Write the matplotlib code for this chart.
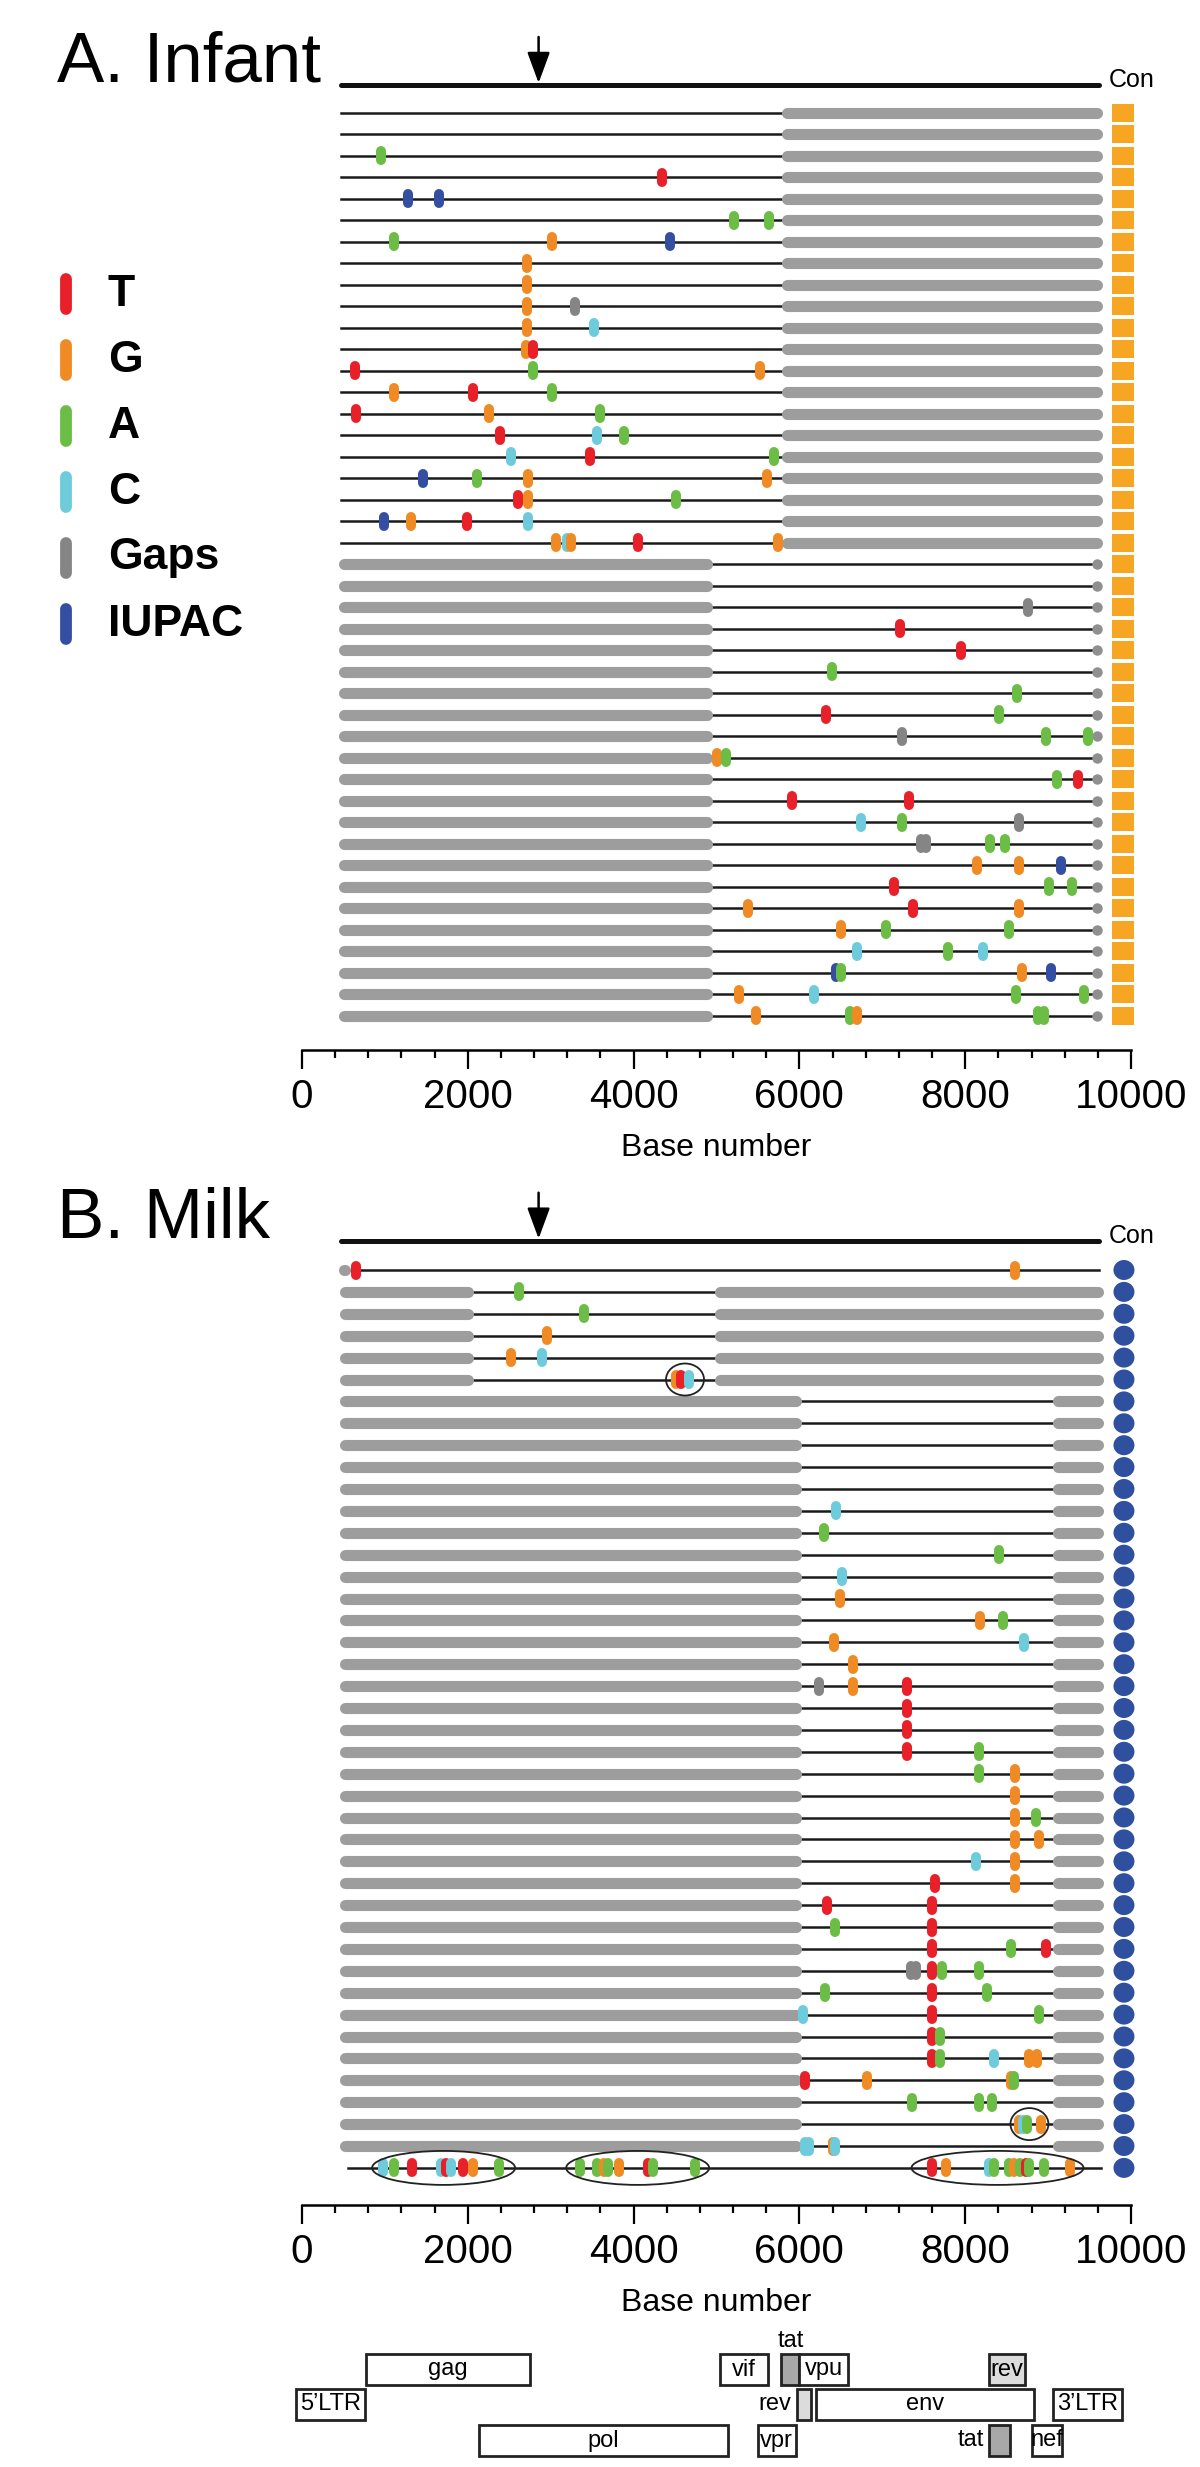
import matplotlib
matplotlib.use("Agg")
import matplotlib.pyplot as plt
import matplotlib.transforms as mtransforms
from matplotlib.patches import Ellipse, Rectangle
from matplotlib.ticker import MultipleLocator

plt.rcParams["font.family"] = ["Liberation Sans", "DejaVu Sans"]

W, H = 1200, 2467
X0_PX, X1_PX = 302, 1131          # pixel columns of base 0 and base 10000
PX_PER_BP = (X1_PX - X0_PX) / 10000.0

COLORS = {"T": "#e8202a", "G": "#f08a24", "A": "#6cbd45",
          "C": "#6dcbdc", "-": "#858585", "N": "#344fa1"}
GAP_GRAY = "#9d9d9d"
LEGEND_CODES = ["T", "G", "A", "C", "-", "N"]
LEGEND_LABELS = ["T", "G", "A", "C", "Gaps", "IUPAC"]

ARROW_BP = 2854
CON_BP = 9903

# ---- A. Infant -------------------------------------------------------------
INFANT_N_3GAP = 21      # first rows: sequenced 5' half, gap at 3'
INFANT_N_5GAP = 22      # last rows: gap at 5', sequenced 3' half
INFANT_MUTS = [
    [],
    [],
    [(955, "A")],
    [(4343, "T")],
    [(1279, "N"), (1650, "N")],
    [(5209, "A"), (5633, "A")],
    [(1107, "A"), (3013, "G"), (4435, "N")],
    [(2715, "G")],
    [(2715, "G")],
    [(2715, "G"), (3291, "-")],
    [(2715, "G"), (3522, "C")],
    [(2708, "G"), (2788, "T")],
    [(638, "T"), (2788, "A"), (5520, "G")],
    [(1114, "G"), (2060, "T"), (3013, "A")],
    [(651, "T"), (2258, "G"), (3595, "A")],
    [(2391, "T"), (3555, "C"), (3879, "A")],
    [(2523, "C"), (3476, "T"), (5692, "A")],
    [(1465, "N"), (2113, "A"), (2728, "G"), (5613, "G")],
    [(2609, "T"), (2728, "G"), (4508, "A")],
    [(988, "N"), (1319, "G"), (1994, "T"), (2722, "C")],
    [(3066, "G"), (3198, "C"), (3245, "G"), (4051, "T"), (5745, "G")],
    [],
    [],
    [(8756, "-")],
    [(7214, "T")],
    [(7948, "T")],
    [(6394, "A")],
    [(8623, "A")],
    [(6321, "T"), (8405, "A")],
    [(7240, "-"), (8980, "A"), (9483, "A")],
    [(5011, "G"), (5117, "A")],
    [(9106, "A"), (9364, "T")],
    [(5910, "T"), (7326, "T")],
    [(6744, "C"), (7234, "A"), (8643, "-")],
    [(7470, "-"), (7525, "-"), (8305, "A"), (8484, "A")],
    [(8140, "G"), (8643, "G"), (9152, "N")],
    [(7141, "T"), (9007, "A"), (9291, "A")],
    [(5375, "G"), (7373, "T"), (8650, "G")],
    [(6499, "G"), (7042, "A"), (8524, "A")],
    [(6691, "C"), (7790, "A"), (8220, "C")],
    [(6440, "N"), (6499, "A"), (8683, "G"), (9033, "N")],
    [(5275, "G"), (6182, "C"), (8610, "A"), (9437, "A")],
    [(5480, "G"), (6605, "A"), (6698, "G"), (8874, "A"), (8947, "A")],
]
INFANT_SEQ = [(470, 5790)] * INFANT_N_3GAP + [(4951, 9585)] * INFANT_N_5GAP
INFANT_GAPS = [[(5790, 9660)]] * INFANT_N_3GAP + [[(440, 4951)]] * INFANT_N_5GAP

# ---- B. Milk ---------------------------------------------------------------
MILK_MUTS = [
    [(657, "T"), (8603, "G")],
    [(2616, "A")],
    [(3396, "A")],
    [(2960, "G")],
    [(2523, "G"), (2894, "C")],
    [(4514, "G"), (4574, "T"), (4673, "C")],
    [], [], [], [], [],
    [(6440, "C")],
    [(6301, "A")],
    [(8405, "A")],
    [(6519, "C")],
    [(6493, "G")],
    [(8173, "G"), (8451, "A")],
    [(6413, "G"), (8709, "C")],
    [(6645, "G")],
    [(6235, "-"), (6645, "G"), (7293, "T")],
    [(7293, "T")],
    [(7293, "T")],
    [(7293, "T"), (8167, "A")],
    [(8167, "A"), (8603, "G")],
    [(8603, "G")],
    [(8603, "G"), (8854, "A")],
    [(8603, "G"), (8888, "G")],
    [(8133, "C"), (8603, "G")],
    [(7631, "T"), (8603, "G")],
    [(6334, "T"), (7604, "T")],
    [(6427, "A"), (7604, "T")],
    [(7604, "T"), (8557, "A"), (8974, "T")],
    [(7350, "-"), (7405, "-"), (7604, "T"), (7717, "A"), (8167, "A")],
    [(6314, "A"), (7604, "T"), (8266, "A")],
    [(6049, "C"), (7604, "T"), (8888, "A")],
    [(7604, "T"), (7697, "A")],
    [(7604, "T"), (7697, "A"), (8352, "C"), (8775, "G"), (8861, "G")],
    [(6069, "T"), (6817, "G"), (8557, "G"), (8590, "A")],
    [(7359, "A"), (8167, "A"), (8326, "A")],
    [(8643, "G"), (8696, "C"), (8749, "A"), (8914, "G")],
    [(6063, "C"), (6116, "C"), (6400, "G"), (6430, "C")],
    [(981, "C"), (1106, "A"), (1321, "T"), (1674, "C"), (1743, "T"),
     (1798, "C"), (1937, "T"), (2061, "G"), (2373, "A"),
     (3356, "A"), (3557, "A"), (3647, "G"), (3696, "A"), (3820, "G"),
     (4173, "T"), (4229, "A"), (4741, "A"),
     (7601, "T"), (7767, "G"), (8293, "C"), (8348, "A"), (8528, "A"),
     (8584, "G"), (8667, "A"), (8736, "T"), (8771, "A"), (8951, "A"),
     (9262, "G")],
]
MILK_SEQ = ([(560, 9615)] + [(2066, 4971)] * 5 + [(6030, 9053)] * 35
            + [(560, 9636)])
MILK_GAPS = ([[(440, 580)]] + [[(452, 2066), (4971, 9668)]] * 5
             + [[(452, 6030), (9053, 9668)]] * 35 + [[(470, 590)]])
# (row index, centre base, width px, height px)
MILK_CIRCLES = [(5, 4620, 38, 32), (39, 8775, 38, 32),
                (41, 1708, 143, 34), (41, 4049, 143, 34), (41, 8390, 172, 34)]

# ---- genome map ------------------------------------------------------------
GENE_NAMES = ["5\u2019LTR", "gag", "pol", "vif", "vpr", "tat", "rev", "vpu",
              "env", "rev", "tat", "nef", "3\u2019LTR"]
GENE_START = [-71, 774, 2138, 5039, 5503, 5780, 5967, 6001, 6202, 8286,
              8286, 8805, 9055]
GENE_END = [760, 2747, 5136, 5620, 5953, 6001, 6140, 6590, 8826, 8722,
            8542, 9165, 9893]
GENE_LANE = [1, 0, 2, 0, 2, 0, 1, 0, 1, 0, 2, 2, 1]
GENE_FILL = ["white", "white", "white", "white", "white", "#a8a8a8",
             "#dcdcdc", "white", "white", "#dcdcdc", "#a8a8a8", "white",
             "white"]
GENE_LABEL_POS = ["in", "in", "in", "in", "in", "above", "left", "in",
                  "in", "in", "left", "in", "in"]
LANE_TOP = [2354, 2389, 2425]
LANE_H = 31


def bp_width(px):
    return px / PX_PER_BP


def draw_panel(ax, rows_y, header_y, seq, gaps, muts, con_style, end_dots):
    cap = bp_width(5.5)
    ax.plot([470, 9615], [header_y, header_y], color="#111111", lw=3.6,
            solid_capstyle="round", clip_on=False)
    ax.annotate("", xy=(ARROW_BP, header_y - 2), xytext=(ARROW_BP, header_y - 48),
                arrowprops=dict(arrowstyle="-|>,head_length=1.9,head_width=0.7",
                                color="black", lw=1.8, shrinkA=0, shrinkB=0),
                annotation_clip=False)
    for y, (s0, s1), row_gaps, row_muts in zip(rows_y, seq, gaps, muts):
        ax.plot([s0, s1], [y, y], color="#1a1a1a", lw=1.8, clip_on=False,
                zorder=2)
        for g0, g1 in row_gaps:
            if g1 - g0 > 2 * cap:
                a, b = g0 + cap, g1 - cap
            else:
                a = b = (g0 + g1) / 2
                b += 1
            ax.plot([a, b], [y, y], color=GAP_GRAY, lw=8,
                    solid_capstyle="round", clip_on=False, zorder=3)
        if end_dots and row_gaps[0][0] < 1000:
            ax.plot([s1], [y], "o", color="#8f8f8f", ms=7.5, mec="none",
                    clip_on=False, zorder=3)
        for pos, code in row_muts:
            ax.vlines(pos, y - 4.5, y + 4.5, colors=COLORS[code], lw=7.2,
                      capstyle="round", clip_on=False, zorder=4)
    for y in rows_y:
        if con_style == "square":
            ax.add_patch(Rectangle((CON_BP - bp_width(11), y - 9), bp_width(22),
                                   18, facecolor="#f6a623", edgecolor="none",
                                   clip_on=False))
        else:
            ax.add_patch(Ellipse((CON_BP + bp_width(1), y), bp_width(21), 20,
                                 facecolor="#2f4f9f", edgecolor="none",
                                 clip_on=False))
    ax.text(9735, header_y - 5, "Con", fontsize=18, va="center", ha="left",
            clip_on=False)


def style_axis(ax):
    for side in ["top", "left", "right"]:
        ax.spines[side].set_visible(False)
    ax.spines["bottom"].set_linewidth(1.8)
    ax.set_yticks([])
    ax.set_xlim(0, 10000)
    ax.xaxis.set_major_locator(MultipleLocator(2000))
    ax.xaxis.set_minor_locator(MultipleLocator(400))
    ax.tick_params(axis="x", which="major", length=13.5, width=1.6,
                   labelsize=29, pad=7)
    ax.tick_params(axis="x", which="minor", length=6, width=1.6)
    ax.set_xlabel("Base number", fontsize=23, labelpad=12)
    ax.patch.set_visible(False)


fig = plt.figure(figsize=(W / 100, H / 100), dpi=100)
px = mtransforms.Affine2D().scale(1 / W, -1 / H).translate(0, 1) + fig.transFigure

# panel A
axA = fig.add_axes([X0_PX / W, 1 - 1050 / H, (X1_PX - X0_PX) / W, (1050 - 30) / H])
axA.set_ylim(1050, 30)
style_axis(axA)
rows_a = [112.7 + i * 21.5 for i in range(len(INFANT_MUTS))]
draw_panel(axA, rows_a, 85, INFANT_SEQ, INFANT_GAPS, INFANT_MUTS,
           "square", True)
fig.text(57, 82, "A. Infant", fontsize=51, va="baseline", ha="left",
         transform=px)

# legend
for i, (code, label) in enumerate(zip(LEGEND_CODES, LEGEND_LABELS)):
    ly = 294 + i * 66
    fig.add_artist(plt.Line2D([66, 66], [ly - 15, ly + 15], transform=px,
                              color=COLORS[code], lw=8.5,
                              solid_capstyle="round"))
    fig.text(108, ly, label, fontsize=32, fontweight="bold", va="center",
             ha="left", transform=px)

# panel B
axB = fig.add_axes([X0_PX / W, 1 - 2205 / H, (X1_PX - X0_PX) / W, (2205 - 1180) / H])
axB.set_ylim(2205, 1180)
style_axis(axB)
rows_b = [1270 + i * 21.9 for i in range(len(MILK_MUTS))]
draw_panel(axB, rows_b, 1240.7, MILK_SEQ, MILK_GAPS, MILK_MUTS,
           "circle", False)
for r, cx, wpx, hpx in MILK_CIRCLES:
    axB.add_patch(Ellipse((cx, rows_b[r]), bp_width(wpx), hpx, fill=False,
                          ec="#222222", lw=1.3, clip_on=False, zorder=5))
fig.text(57, 1238, "B. Milk", fontsize=51, va="baseline", ha="left",
         transform=px)

# genome map
for name, g0, g1, lane, fill, lab in zip(GENE_NAMES, GENE_START, GENE_END,
                                         GENE_LANE, GENE_FILL, GENE_LABEL_POS):
    top = LANE_TOP[lane]
    axB.add_patch(Rectangle((g0, top), g1 - g0, LANE_H, facecolor=fill,
                            edgecolor="#222222", lw=2, clip_on=False))
    if lab == "in":
        axB.text((g0 + g1) / 2, top + LANE_H / 2, name, fontsize=17,
                 ha="center", va="center", clip_on=False)
    elif lab == "above":
        axB.text((g0 + g1) / 2, top - 13, name, fontsize=17, ha="center",
                 va="center", clip_on=False)
    else:
        axB.text(g0 - bp_width(5), top + LANE_H / 2, name, fontsize=17,
                 ha="right", va="center", clip_on=False)

fig.savefig("out.png", dpi=100)
